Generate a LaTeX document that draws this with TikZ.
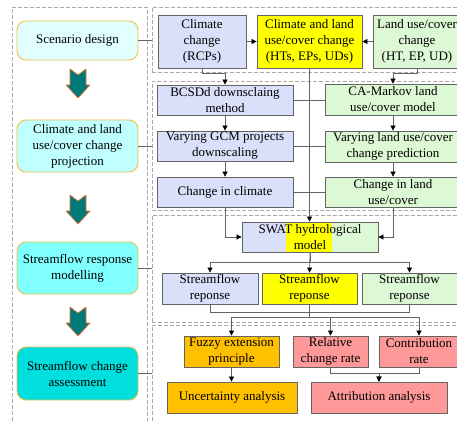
\documentclass[tikz,border=0pt]{standalone}
\usepackage{fontspec}
\setmainfont{Liberation Serif}
\usetikzlibrary{arrows.meta, positioning}

\definecolor{boxline}{RGB}{100,100,100}
\definecolor{panelline}{RGB}{170,170,170}
\definecolor{bluefill}{RGB}{218,224,250}
\definecolor{greenfill}{RGB}{221,248,212}
\definecolor{yellowfill}{RGB}{255,255,0}
\definecolor{orangefill}{RGB}{255,192,0}
\definecolor{pinkfill}{RGB}{255,153,153}
\definecolor{stageline}{RGB}{240,192,70}
\definecolor{stageA}{RGB}{226,255,255}
\definecolor{stageB}{RGB}{192,255,255}
\definecolor{stageC}{RGB}{128,255,255}
\definecolor{stageD}{RGB}{0,222,222}
\definecolor{teal}{RGB}{0,122,120}
\definecolor{tealedge}{RGB}{226,112,50}

\tikzset{
  panel/.style={draw=panelline, dashed, dash pattern=on 4pt off 2pt, line width=0.6pt, inner sep=0pt},
  stage/.style={draw=stageline, line width=0.9pt, rounded corners=9pt, align=center, minimum width=121, inner sep=1pt},
  box/.style={draw=boxline, line width=0.8pt, align=center, inner sep=1pt},
  link/.style={draw=boxline, line width=0.7pt},
  arr/.style={link, -{Triangle[length=5pt,width=5pt,color=black]}},
  bigarrow/.style={fill=teal, draw=tealedge, line width=0.7pt, line join=round}
}

% fat block arrow between the stages (x, top y)
\newcommand{\stagearrow}[2]{%
  \draw[bigarrow] (#1-8,#2) -- (#1,#2+6) -- (#1+8,#2) -- (#1+8,#2+16) -- (#1+12,#2+16)
    -- (#1,#2+29) -- (#1-12,#2+16) -- (#1-8,#2+16) -- cycle;}

\begin{document}
\begin{tikzpicture}[x=1pt, y=-1pt, font=\fontsize{13}{16}\selectfont]
\useasboundingbox (0,0) rectangle (457,420);
\clip (0,0) rectangle (457,420);
\fill[white] (0,0) rectangle (457,420);

% dashed panels
\node[panel, minimum width=135, minimum height=418] (stages) at (79.5,216) {};
\node[panel, minimum width=318, minimum height=65] (scen) at (311,39.5) {};
\node[panel, minimum width=318, minimum height=129] (proj) at (311,145.5) {};
\node[panel, minimum width=318, minimum height=107] (model) at (311,268.5) {};
\node[panel, minimum width=318, minimum height=100] (assess) at (311,375) {};

% stages
\node[stage, fill=stageA, minimum height=39] (s1) at (77.5,40.5) {Scenario design};
\node[stage, fill=stageB, minimum height=52] (s2) at (77.5,146) {Climate and land\\use/cover change\\projection};
\node[stage, fill=stageC, minimum height=52] (s3) at (77.5,268) {Streamflow response\\modelling};
\node[stage, fill=stageD, minimum height=53] (s4) at (77.5,373.5) {Streamflow change\\assessment};

\stagearrow{78}{69}
\stagearrow{78}{195}
\stagearrow{78}{307}

\draw[link] (s1.east) -- (s1.east -| scen.west);
\draw[link] (s2.east) -- (s2.east -| proj.west);
\draw[link] (s3.east) -- (s3.east -| model.west);
\draw[link] (s4.east) -- (s4.east -| assess.west);

% scenario design
\node[box, fill=bluefill, minimum width=88, minimum height=53] (rcp) at (202,41.5) {Climate\\change\\(RCPs)};
\node[box, fill=yellowfill, minimum width=105, minimum height=53] (lucc) at (309.5,41.5) {Climate and land\\use/cover change\\(HTs, EPs, UDs)};
\node[box, fill=greenfill, minimum width=88, minimum height=53] (lu) at (417,41.5) {Land use/cover\\change\\(HT, EP, UD)};

\draw[arr] (rcp.east) -- (lucc.west);
\draw[arr] (lu.west) -- (lucc.east);

% climate and land use/cover change projection
\node[box, fill=bluefill, minimum width=136, minimum height=30] (bcsd) at (225,100) {BCSDd downsclaing\\method};
\node[box, fill=bluefill, minimum width=136, minimum height=30] (gcm) at (225,146) {Varying GCM projects\\downscaling};
\node[box, fill=bluefill, minimum width=136, minimum height=30] (cic) at (225,192) {Change in climate};
\node[box, fill=greenfill, minimum width=136, minimum height=31] (ca) at (393,99.5) {CA-Markov land\\use/cover model};
\node[box, fill=greenfill, minimum width=136, minimum height=31] (vlu) at (393,146.5) {Varying land use/cover\\change prediction};
\node[box, fill=greenfill, minimum width=136, minimum height=30] (clu) at (393,192) {Change in land\\use/cover};

\draw[arr] (rcp.south) -- ++(0,5) -| (bcsd.north);
\draw[arr] (lu.south) -- ++(0,5) -| (ca.north);
\draw[arr] (bcsd) -- (gcm);
\draw[arr] (gcm) -- (cic);
\draw[arr] (ca) -- (vlu);
\draw[arr] (vlu) -- (clu);
\draw[link] (bcsd.east) -- (bcsd.east -| ca.west);
\draw[link] (gcm.east) -- (gcm.east -| vlu.west);
\draw[link] (cic.east) -- (clu.west);

% streamflow response modelling
\fill[bluefill] (242,222) rectangle (286,252);
\fill[yellowfill] (286,222) rectangle (332,252);
\fill[greenfill] (332,222) rectangle (378,252);
\node[box, minimum width=136, minimum height=30] (swat) at (310,237) {SWAT hydrological\\model};

\draw[arr] (lucc.south) -- (lucc.south |- swat.north);
\draw[arr] (cic.south) |- (swat.west);
\draw[arr] (clu.south) |- (swat.east);

\node[box, fill=bluefill, minimum width=96, minimum height=31] (sfa) at (210,288.5) {Streamflow\\reponse};
\node[box, fill=yellowfill, minimum width=95, minimum height=31] (sfb) at (309.5,288.5) {Streamflow\\reponse};
\node[box, fill=greenfill, minimum width=95, minimum height=31] (sfc) at (409.5,288.5) {Streamflow\\reponse};

\draw[arr] (swat.south) -- ++(0,10) -| (sfa.north);
\draw[arr] (swat.south) -- (sfb.north);
\draw[arr] (swat.south) -- ++(0,10) -| (sfc.north);

% streamflow change assessment
\node[box, fill=orangefill, minimum width=95, minimum height=31] (fuzzy) at (231.5,351.5) {Fuzzy extension\\principle};
\node[box, fill=pinkfill, minimum width=75, minimum height=31] (rel) at (330.5,351.5) {Relative\\change rate};
\node[box, fill=pinkfill, minimum width=80, minimum height=31] (con) at (419,351.5) {Contribution\\rate};
\node[box, fill=orangefill, minimum width=130, minimum height=31] (unc) at (232,397.5) {Uncertainty analysis};
\node[box, fill=pinkfill, minimum width=136, minimum height=31] (att) at (379,397.5) {Attribution analysis};

\coordinate (split) at (309.5,317);
\draw[link] (sfa.south) -- ++(0,8) -| (sfc.south);
\draw[link] (sfb.south) -- (split);
\draw[arr] (split) -| (fuzzy.north);
\draw[arr] (split) -| (rel.north);
\draw[arr] (split) -| (con.north);
\draw[arr] (fuzzy.south) -- (fuzzy.south |- unc.north);
\draw[arr] (rel.south) -- ++(0,6) -| (att.north);
\draw[arr] (con.south) -- ++(0,6) -| (att.north);

\end{tikzpicture}
\end{document}
